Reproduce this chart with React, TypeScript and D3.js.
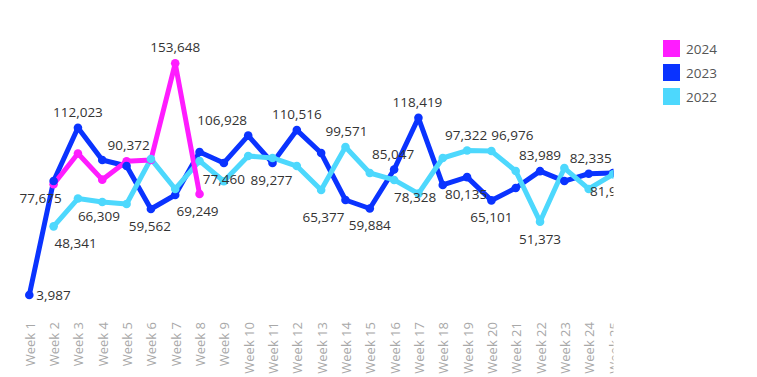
import React from "react";
import * as d3 from "d3";

const weeks = Array.from({ length: 25 }, (_, i) => `Week ${i + 1}`);

const series2024: (number | null)[] = [
  null, 75500, 95400, 78500, 90372, 91200, 153648, 69249,
  null, null, null, null, null, null, null, null, null, null, null, null, null, null, null, null, null,
];
const series2023: (number | null)[] = [
  3987, 77675, 112023, 91200, 87300, 59562, 68600, 96400, 89300, 106928,
  89277, 110516, 95700, 65377, 59884, 85047, 118419, 75100, 80135, 65101,
  73100, 83989, 77600, 82335, 82800,
];
const series2022: (number | null)[] = [
  null, 48341, 66309, 64100, 62800, 91900, 72500, 90600, 77460, 93800,
  92500, 87300, 71800, 99571, 82800, 78328, 69500, 92500, 97322, 96976,
  84100, 51373, 86000, 72500, 81950,
];

const seriesNames = ["2024", "2023", "2022"];
const seriesColors = ["#ff1cff", "#0a33ff", "#4dd8fd"];
const seriesData = [series2024, series2023, series2022];

// labels: [series index, week index, placement, horizontal shift]
const labelSpecs: [number, number, string, number][] = [
  [0, 6, "above", 0],
  [0, 4, "above", 2],
  [0, 7, "below", -2],
  [1, 0, "right", 0],
  [1, 1, "below", -13],
  [1, 2, "above", 0],
  [1, 5, "below", -1],
  [1, 9, "above", -26],
  [1, 10, "below", -1],
  [1, 11, "above", 0],
  [1, 13, "below", -22],
  [1, 14, "below", 0],
  [1, 15, "above", -1],
  [1, 16, "above", -1],
  [1, 18, "below", -1],
  [1, 19, "below", 0],
  [1, 21, "above", 0],
  [1, 23, "above", 2],
  [2, 1, "below", 22],
  [2, 2, "below", 21],
  [2, 8, "inline", 0],
  [2, 13, "above", 1],
  [2, 15, "below", 21],
  [2, 18, "above", -1],
  [2, 19, "above", 21],
  [2, 21, "below", 0],
  [2, 24, "below", -2],
];

const W = 757;
const H = 377;
const FONT = "'Open Sans', 'Noto Sans', sans-serif";

export default function App() {
  const x = d3.scalePoint<string>().domain(weeks).range([29.3, 613]);
  const y = d3.scaleLinear().domain([0, 160000]).range([301.2, 53.5]);
  const fmt = d3.format(",");

  const line = d3
    .line<number | null>()
    .defined((d) => d != null)
    .x((_, i) => x(weeks[i])!)
    .y((d) => y(d as number));

  const lineOrder = [1, 2, 0];
  const markerOrder = [0, 1, 2];

  return (
    <svg
      width={W}
      height={H}
      style={{ position: "fixed", left: 0, top: 0, background: "#fff" }}
      fontFamily={FONT}
    >
      <defs>
        <clipPath id="plotClip">
          <rect x={0} y={0} width={613.5} height={H} />
        </clipPath>
      </defs>
      <g clipPath="url(#plotClip)">
        {lineOrder.map((si) => (
          <path
            key={"l" + si}
            d={line(seriesData[si]) || ""}
            fill="none"
            stroke={seriesColors[si]}
            strokeWidth={5}
            strokeLinejoin="round"
            strokeLinecap="round"
          />
        ))}
        {markerOrder.map((si) =>
          seriesData[si].map((v, i) =>
            v == null ? null : (
              <circle
                key={`m${si}-${i}`}
                cx={x(weeks[i])}
                cy={y(v)}
                r={4.3}
                fill={seriesColors[si]}
              />
            )
          )
        )}
        {labelSpecs.map(([si, wi, place, dx], k) => {
          const v = seriesData[si][wi] as number;
          const px = x(weeks[wi])!;
          const py = y(v);
          let tx = px + dx;
          let ty = py;
          let anchor: "middle" | "start" = "middle";
          if (place === "above") ty = py - 16;
          else if (place === "below") ty = py + 17;
          else if (place === "right") {
            tx = px + 7;
            anchor = "start";
          } else ty = py - 2;
          return (
            <text
              key={"t" + k}
              x={tx}
              y={ty}
              textAnchor={anchor}
              dominantBaseline="central"
              fontSize={13.5}
              fill="#333"
            >
              {fmt(v)}
            </text>
          );
        })}
        {weeks.map((w) => (
          <text
            key={w}
            transform={`translate(${x(w)! + 0.5},322) rotate(-90)`}
            textAnchor="end"
            dominantBaseline="central"
            fontSize={13}
            fill="#a8a8a8"
          >
            {w}
          </text>
        ))}
      </g>
      {seriesNames.map((n, i) => (
        <g key={n} transform={`translate(663,${40 + i * 24})`}>
          <rect width={17} height={17} fill={seriesColors[i]} />
          <text x={23} y={9} dominantBaseline="central" fontSize={13.5} fill="#555">
            {n}
          </text>
        </g>
      ))}
    </svg>
  );
}
